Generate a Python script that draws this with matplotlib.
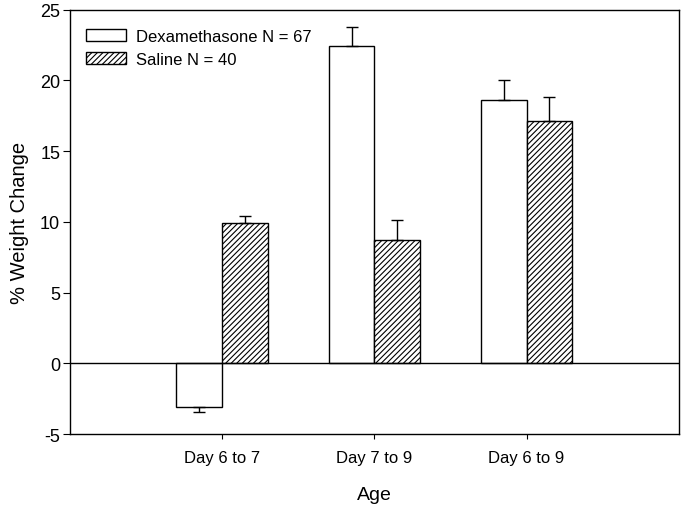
import matplotlib.pyplot as plt
import numpy as np

plt.rcParams['font.family'] = ['Liberation Sans', 'DejaVu Sans']
plt.rcParams['hatch.linewidth'] = 0.8
plt.rcParams['axes.unicode_minus'] = False

groups = ['Day 6 to 7', 'Day 7 to 9', 'Day 6 to 9']
dex_mean = [-3.1, 22.4, 18.65]
dex_err = [0.33, 1.4, 1.36]
sal_mean = [9.95, 8.75, 17.1]
sal_err = [0.5, 1.4, 1.72]

fig = plt.figure(figsize=(6.85, 5.1), dpi=100)
ax = fig.add_axes([0.102, 0.147, 0.889, 0.832])

x = np.arange(1, len(groups) + 1)
w = 0.3

ax.bar(x - w / 2, dex_mean, w, color='white', edgecolor='black', linewidth=1,
       label='Dexamethasone N = 67')
ax.bar(x + w / 2, sal_mean, w, color='white', edgecolor='black', linewidth=1,
       hatch='//////', label='Saline N = 40')

# one-sided error bars, away from zero
dex_lo = [e if m < 0 else 0 for m, e in zip(dex_mean, dex_err)]
dex_hi = [0 if m < 0 else e for m, e in zip(dex_mean, dex_err)]
ax.errorbar(x - w / 2, dex_mean, yerr=[dex_lo, dex_hi], fmt='none',
            ecolor='black', elinewidth=1, capsize=4.5, capthick=1)
ax.errorbar(x + w / 2, sal_mean, yerr=[[0] * 3, sal_err], fmt='none',
            ecolor='black', elinewidth=1, capsize=4.5, capthick=1)

ax.axhline(0, color='black', linewidth=1)

ax.set_xlim(0, 4)
ax.set_ylim(-5, 25)
ax.set_xticks(x)
ax.set_xticklabels(groups)
ax.set_yticks(range(-5, 26, 5))
ax.tick_params(direction='out', top=False, right=False)
ax.tick_params(axis='y', length=5, pad=2, labelsize=13)
ax.tick_params(axis='x', length=3.5, pad=8, labelsize=12)
for s in ax.spines.values():
    s.set_linewidth(1)

ax.set_xlabel('Age', fontsize=14, labelpad=15)
ax.set_ylabel('% Weight Change', fontsize=14.5, labelpad=8)

ax.legend(loc='upper left', frameon=False, fontsize=12, handlelength=2.4,
          handleheight=0.72, handletextpad=0.6, borderaxespad=0.0,
          labelspacing=0.45, bbox_to_anchor=(0.015, 0.97))

fig.savefig('out.png', dpi=100)
